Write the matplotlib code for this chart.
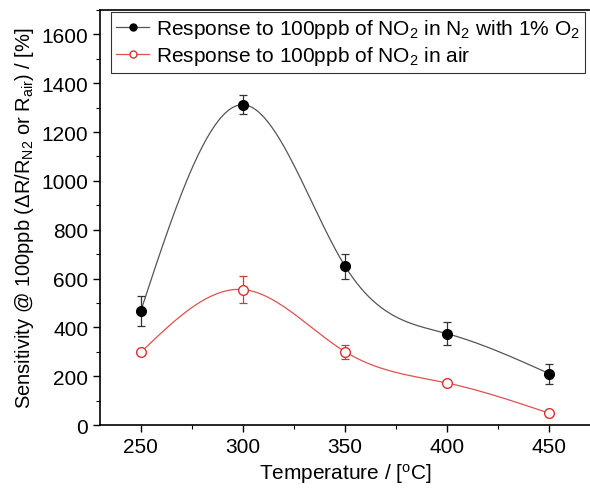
import numpy as np
import matplotlib
matplotlib.use("Agg")
import matplotlib.pyplot as plt
from matplotlib.ticker import MultipleLocator

plt.rcParams["font.family"] = ["Liberation Sans", "DejaVu Sans"]
plt.rcParams["mathtext.fontset"] = "custom"
plt.rcParams["mathtext.rm"] = "Liberation Sans"
plt.rcParams["mathtext.it"] = "Liberation Sans"

temperature = [250, 300, 350, 400, 450]
n2_response = [468, 1312, 650, 374, 210]
n2_error = [62, 38, 50, 48, 40]
air_response = [298, 555, 300, 172, 48]
air_error = [10, 55, 28, 10, 10]


def smooth(x, y, n=200):
    # natural cubic spline through the points, for the line drawing
    x = np.asarray(x, float)
    y = np.asarray(y, float)
    k = len(x)
    h = np.diff(x)
    A = np.zeros((k, k))
    b = np.zeros(k)
    A[0, 0] = A[-1, -1] = 1
    for i in range(1, k - 1):
        A[i, i - 1] = h[i - 1]
        A[i, i] = 2 * (h[i - 1] + h[i])
        A[i, i + 1] = h[i]
        b[i] = 6 * ((y[i + 1] - y[i]) / h[i] - (y[i] - y[i - 1]) / h[i - 1])
    m = np.linalg.solve(A, b)
    xs = np.linspace(x[0], x[-1], n)
    idx = np.clip(np.searchsorted(x, xs) - 1, 0, k - 2)
    t0 = xs - x[idx]
    t1 = x[idx + 1] - xs
    hi = h[idx]
    ys = (m[idx] * t1**3 + m[idx + 1] * t0**3) / (6 * hi) \
        + (y[idx] / hi - m[idx] * hi / 6) * t1 \
        + (y[idx + 1] / hi - m[idx + 1] * hi / 6) * t0
    return xs, ys


fig = plt.figure(figsize=(5.9, 4.89), dpi=100)
ax = fig.add_axes([0.1695, 0.1288, 0.831, 0.8487])

xs, ys = smooth(temperature, n2_response)
ax.plot(xs, ys, color="#555555", lw=0.9)
xs, ys = smooth(temperature, air_response)
ax.plot(xs, ys, color="#e05050", lw=0.9)

ax.errorbar(temperature, n2_response, yerr=n2_error, fmt="none",
            ecolor="#333333", elinewidth=0.9, capsize=3, capthick=0.9)
ax.errorbar(temperature, air_response, yerr=air_error, fmt="none",
            ecolor="#c04040", elinewidth=0.9, capsize=3, capthick=0.9)
ax.plot(temperature, n2_response, "o", color="black", ms=7, zorder=5)
ax.plot(temperature, air_response, "o", mfc="white", mec="#e03030",
        mew=1, ms=7, zorder=5)

h1, = ax.plot([], [], "-o", color="#555555", mfc="black", mec="black", ms=5, lw=0.9)
h2, = ax.plot([], [], "-o", color="#e05050", mfc="white", mec="#e03030", ms=5, lw=0.9)
leg = ax.legend([h1, h2],
                ["Response to 100ppb of NO$_2$ in N$_2$ with 1% O$_2$",
                 "Response to 100ppb of NO$_2$ in air"],
                loc="upper left", bbox_to_anchor=(0.018, 1.0), fontsize=15,
                frameon=True, fancybox=False, edgecolor="black",
                handlelength=1.6, handletextpad=0.3, borderpad=0.25,
                labelspacing=0.2, borderaxespad=0.1)
leg.get_frame().set_linewidth(0.8)

ax.set_xlim(230, 470)
ax.set_ylim(0, 1700)
ax.xaxis.set_major_locator(MultipleLocator(50))
ax.xaxis.set_minor_locator(MultipleLocator(25))
ax.yaxis.set_major_locator(MultipleLocator(200))
ax.yaxis.set_minor_locator(MultipleLocator(100))
ax.tick_params(which="both", direction="out", top=False, labelsize=15)
ax.tick_params(axis="y", which="both", right=True, direction="in")
ax.tick_params(axis="y", which="both", left=True, direction="out")
ax.tick_params(which="major", length=5, width=1)
ax.tick_params(which="minor", length=3, width=0.8)
ax.spines["right"].set_visible(False)
for s in ax.spines.values():
    s.set_linewidth(1.2)

ax.set_xlabel("Temperature / [$^{\\rm o}$C]", fontsize=15)
ax.set_ylabel("Sensitivity @ 100ppb ($\\Delta$R/R$_{\\rm N2}$ or R$_{\\rm air}$) / [%]",
              fontsize=14.5)

fig.savefig("out.png", dpi=100)
